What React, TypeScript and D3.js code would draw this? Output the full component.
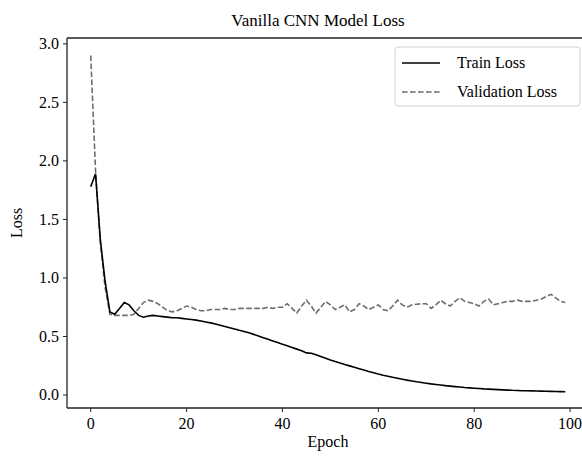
import React from "react";
import * as d3 from "d3";

const epochs: number[] = Array.from({ length: 100 }, (_, i) => i);

const trainLoss: number[] = [
  1.78, 1.89, 1.33, 0.97, 0.71, 0.69, 0.74, 0.79, 0.77, 0.72,
  0.68, 0.665, 0.675, 0.68, 0.675, 0.67, 0.665, 0.66, 0.66, 0.655,
  0.65, 0.645, 0.64, 0.632, 0.624, 0.616, 0.606, 0.596, 0.586, 0.575,
  0.564, 0.553, 0.543, 0.531, 0.518, 0.504, 0.49, 0.476, 0.462, 0.448,
  0.434, 0.42, 0.406, 0.392, 0.378, 0.36, 0.357, 0.343, 0.328, 0.314,
  0.3, 0.287, 0.273, 0.261, 0.249, 0.237, 0.225, 0.213, 0.201, 0.19,
  0.179, 0.169, 0.16, 0.151, 0.143, 0.135, 0.127, 0.12, 0.113, 0.107,
  0.101, 0.095, 0.09, 0.085, 0.08, 0.076, 0.072, 0.068, 0.064, 0.061,
  0.058, 0.055, 0.052, 0.05, 0.048, 0.046, 0.044, 0.042, 0.04, 0.039,
  0.037, 0.036, 0.035, 0.034, 0.033, 0.032, 0.031, 0.03, 0.029, 0.028,
];

const valLoss: number[] = [
  2.9, 1.92, 1.3, 0.92, 0.69, 0.68, 0.68, 0.68, 0.68, 0.69,
  0.74, 0.79, 0.81, 0.8, 0.78, 0.75, 0.72, 0.71, 0.72, 0.74,
  0.76, 0.75, 0.73, 0.72, 0.72, 0.73, 0.73, 0.73, 0.74, 0.73,
  0.73, 0.74, 0.74, 0.74, 0.74, 0.74, 0.74, 0.75, 0.74, 0.75,
  0.75, 0.78, 0.74, 0.7, 0.76, 0.81, 0.76, 0.7, 0.75, 0.8,
  0.77, 0.73, 0.75, 0.77, 0.71, 0.73, 0.78, 0.76, 0.73, 0.75,
  0.77, 0.73, 0.72, 0.76, 0.81, 0.77, 0.75, 0.77, 0.775, 0.78,
  0.78, 0.74, 0.77, 0.81, 0.78, 0.76, 0.8, 0.83, 0.8, 0.79,
  0.78, 0.76, 0.8, 0.82, 0.77, 0.78, 0.79, 0.8, 0.8, 0.81,
  0.8, 0.8, 0.8, 0.81, 0.82, 0.84, 0.86, 0.83, 0.8, 0.79,
];

const xTicks: number[] = [0, 20, 40, 60, 80, 100];
const yTicks: number[] = [0.0, 0.5, 1.0, 1.5, 2.0, 2.5, 3.0];

const titleText = "Vanilla CNN Model Loss";
const xLabel = "Epoch";
const yLabel = "Loss";
const seriesNames = ["Train Loss", "Validation Loss"];

export default function App() {
  const W = 582;
  const H = 457;
  const left = 67;
  const right = 589;
  const top = 38;
  const bottom = 408;
  const font = "'Liberation Serif', 'Times New Roman', serif";

  const x = d3.scaleLinear().domain([-4.95, 103.95]).range([left, right]);
  const y = d3.scaleLinear().domain([-0.111, 3.05]).range([bottom, top]);

  const line = (vals: number[]) =>
    d3
      .line<number>()
      .x((_, i) => x(epochs[i]))
      .y((d) => y(d))(vals) as string;

  return (
    <svg
      width={W}
      height={H}
      style={{ position: "absolute", left: 0, top: 0, background: "#fff" }}
      fontFamily={font}
    >
      <defs>
        <clipPath id="plotclip">
          <rect x={left} y={top} width={right - left} height={bottom - top} />
        </clipPath>
      </defs>
      <rect x={0} y={0} width={W} height={H} fill="#fff" />
      <text x={318} y={26} textAnchor="middle" fontSize={17} fill="#000">
        {titleText}
      </text>

      <g clipPath="url(#plotclip)">
        <path
          d={line(valLoss)}
          fill="none"
          stroke="#6e6e6e"
          strokeWidth={1.6}
          strokeDasharray="5.6,2.4"
        />
        <path d={line(trainLoss)} fill="none" stroke="#000" strokeWidth={1.6} />
      </g>

      <line x1={left} x2={right} y1={top} y2={top} stroke="#222" strokeWidth={1.3} />
      <line x1={left} x2={right} y1={bottom} y2={bottom} stroke="#222" strokeWidth={1.5} />
      <line x1={left} x2={left} y1={top} y2={bottom} stroke="#222" strokeWidth={1.3} />
      <line x1={right} x2={right} y1={top} y2={bottom} stroke="#222" strokeWidth={1.3} />

      {xTicks.map((t) => (
        <g key={"x" + t}>
          <line x1={x(t)} x2={x(t)} y1={bottom} y2={bottom + 4} stroke="#222" strokeWidth={1} />
          <text x={x(t)} y={bottom + 21} textAnchor="middle" fontSize={16} fill="#000">
            {t}
          </text>
        </g>
      ))}
      {yTicks.map((t) => (
        <g key={"y" + t}>
          <line x1={left - 4} x2={left} y1={y(t)} y2={y(t)} stroke="#222" strokeWidth={1} />
          <text
            x={left - 8}
            y={y(t)}
            dy="0.34em"
            textAnchor="end"
            fontSize={16}
            fill="#000"
          >
            {t.toFixed(1)}
          </text>
        </g>
      ))}

      <text x={328} y={447} textAnchor="middle" fontSize={16} fill="#000">
        {xLabel}
      </text>
      <text
        transform={`translate(22, ${(top + bottom) / 2}) rotate(-90)`}
        textAnchor="middle"
        fontSize={16}
        fill="#000"
      >
        {yLabel}
      </text>

      <g>
        <rect
          x={395}
          y={47}
          width={185}
          height={59}
          rx={3}
          fill="#fff"
          fillOpacity={0.8}
          stroke="#d0d0d0"
          strokeWidth={1}
        />
        <line x1={402} x2={440} y1={63} y2={63} stroke="#000" strokeWidth={1.6} />
        <line
          x1={402}
          x2={440}
          y1={92}
          y2={92}
          stroke="#6e6e6e"
          strokeWidth={1.6}
          strokeDasharray="5.6,2.4"
        />
        <text x={457} y={63} dy="0.34em" fontSize={16} fill="#000">
          {seriesNames[0]}
        </text>
        <text x={457} y={92} dy="0.34em" fontSize={16} fill="#000">
          {seriesNames[1]}
        </text>
      </g>
    </svg>
  );
}
